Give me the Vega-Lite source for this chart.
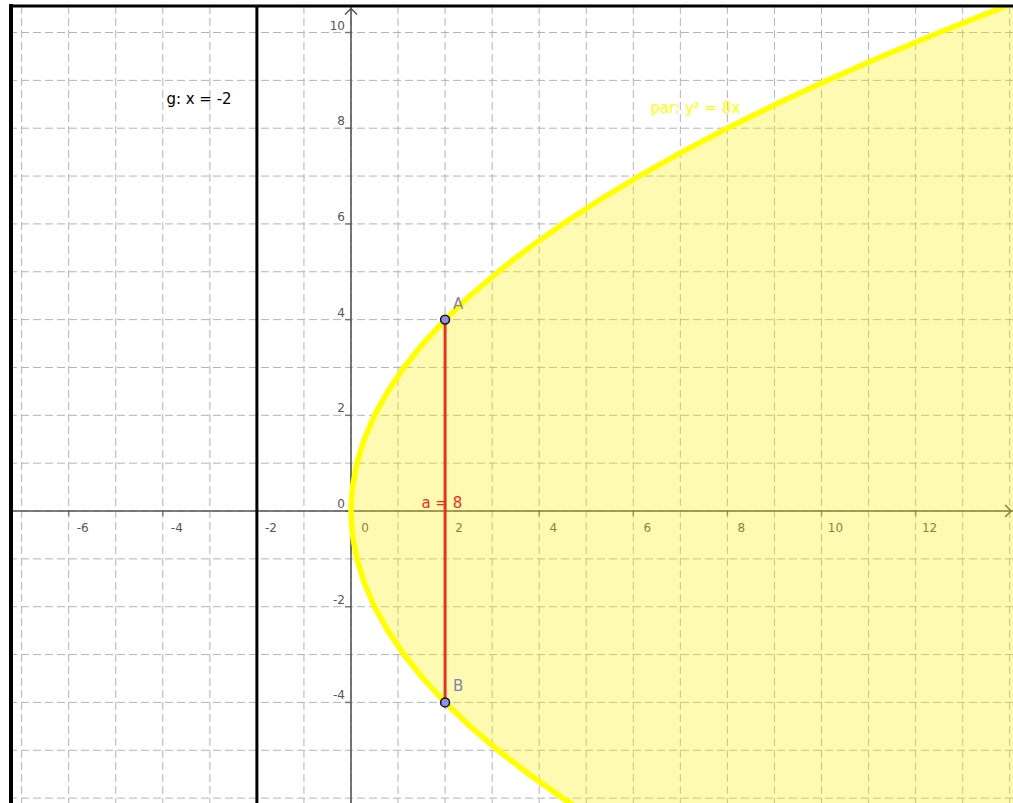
{
  "$schema": "https://vega.github.io/schema/vega-lite/v6.json",
  "width": 1002,
  "height": 797,
  "autosize": {"type": "none"},
  "padding": {"left": 11, "top": 6, "right": 0, "bottom": 0},
  "background": "white",
  "view": {"stroke": null},
  "config": {"text": {"font": "DejaVu Sans"}},
  "data": {"values": [{}]},
  "datasets": {
    "par": [
      {"py": -6.5, "px": 5.28125}, {"py": -6, "px": 4.5}, {"py": -5.5, "px": 3.78125}, {"py": -5, "px": 3.125},
      {"py": -4.5, "px": 2.53125}, {"py": -4, "px": 2}, {"py": -3.5, "px": 1.53125}, {"py": -3, "px": 1.125},
      {"py": -2.5, "px": 0.78125}, {"py": -2, "px": 0.5}, {"py": -1.5, "px": 0.28125}, {"py": -1, "px": 0.125},
      {"py": -0.5, "px": 0.03125}, {"py": 0, "px": 0}, {"py": 0.5, "px": 0.03125}, {"py": 1, "px": 0.125},
      {"py": 1.5, "px": 0.28125}, {"py": 2, "px": 0.5}, {"py": 2.5, "px": 0.78125}, {"py": 3, "px": 1.125},
      {"py": 3.5, "px": 1.53125}, {"py": 4, "px": 2}, {"py": 4.5, "px": 2.53125}, {"py": 5, "px": 3.125},
      {"py": 5.5, "px": 3.78125}, {"py": 6, "px": 4.5}, {"py": 6.5, "px": 5.28125}, {"py": 7, "px": 6.125},
      {"py": 7.5, "px": 7.03125}, {"py": 8, "px": 8}, {"py": 8.5, "px": 9.03125}, {"py": 9, "px": 10.125},
      {"py": 9.5, "px": 11.28125}, {"py": 10, "px": 12.5}, {"py": 10.5, "px": 13.78125}, {"py": 11, "px": 15.125}
    ],
    "gx": [
      {"g": -7}, {"g": -6}, {"g": -5}, {"g": -4}, {"g": -3}, {"g": -2}, {"g": -1}, {"g": 0}, {"g": 1}, {"g": 2}, {"g": 3},
      {"g": 4}, {"g": 5}, {"g": 6}, {"g": 7}, {"g": 8}, {"g": 9}, {"g": 10}, {"g": 11}, {"g": 12}, {"g": 13}, {"g": 14}
    ],
    "gy": [
      {"g": -6}, {"g": -5}, {"g": -4}, {"g": -3}, {"g": -2}, {"g": -1}, {"g": 0}, {"g": 1}, {"g": 2},
      {"g": 3}, {"g": 4}, {"g": 5}, {"g": 6}, {"g": 7}, {"g": 8}, {"g": 9}, {"g": 10}
    ],
    "xt": [
      {"v": -6, "t": "-6"}, {"v": -4, "t": "-4"}, {"v": -2, "t": "-2"}, {"v": 0, "t": "0"}, {"v": 2, "t": "2"},
      {"v": 4, "t": "4"}, {"v": 6, "t": "6"}, {"v": 8, "t": "8"}, {"v": 10, "t": "10"}, {"v": 12, "t": "12"}
    ],
    "yt": [
      {"v": -4, "t": "-4"}, {"v": -2, "t": "-2"}, {"v": 0, "t": "0"}, {"v": 2, "t": "2"},
      {"v": 4, "t": "4"}, {"v": 6, "t": "6"}, {"v": 8, "t": "8"}, {"v": 10, "t": "10"}
    ],
    "pts": [{"x": 2, "y": 4, "name": "A"}, {"x": 2, "y": -4, "name": "B"}],
    "seg": [{"x": 2, "y1": -4, "y2": 4}]
  },
  "layer": [
    {
      "data": {"name": "gx"},
      "mark": {"type": "rule", "color": "#b4b4b4", "strokeWidth": 1, "strokeDash": [8, 4]},
      "encoding": {"x": {"field": "g", "type": "quantitative", "scale": {"domain": [-7.226, 14.07], "nice": false, "zero": false}, "axis": null}}
    },
    {
      "data": {"name": "gy"},
      "mark": {"type": "rule", "color": "#b4b4b4", "strokeWidth": 1, "strokeDash": [8, 4]},
      "encoding": {"y": {"field": "g", "type": "quantitative", "scale": {"domain": [-6.102, 10.554], "nice": false, "zero": false}, "axis": null}}
    },
    {
      "mark": {"type": "rule", "color": "#555555", "strokeWidth": 1.6},
      "encoding": {"y": {"datum": 0, "type": "quantitative", "scale": {"domain": [-6.102, 10.554], "nice": false, "zero": false}, "axis": null}}
    },
    {
      "mark": {"type": "rule", "color": "#555555", "strokeWidth": 1.6},
      "encoding": {"x": {"datum": 0, "type": "quantitative", "scale": {"domain": [-7.226, 14.07], "nice": false, "zero": false}, "axis": null}}
    },
    {
      "data": {"name": "xt"},
      "mark": {"type": "tick", "orient": "vertical", "size": 6, "thickness": 1.5, "yOffset": 2, "color": "#555555"},
      "encoding": {
        "x": {"field": "v", "type": "quantitative", "scale": {"domain": [-7.226, 14.07], "nice": false, "zero": false}, "axis": null},
        "y": {"datum": 0, "type": "quantitative", "scale": {"domain": [-6.102, 10.554], "nice": false, "zero": false}, "axis": null}
      }
    },
    {
      "data": {"name": "yt"},
      "mark": {"type": "tick", "orient": "horizontal", "size": 6, "thickness": 1.5, "xOffset": -3, "color": "#555555"},
      "encoding": {
        "y": {"field": "v", "type": "quantitative", "scale": {"domain": [-6.102, 10.554], "nice": false, "zero": false}, "axis": null},
        "x": {"datum": 0, "type": "quantitative", "scale": {"domain": [-7.226, 14.07], "nice": false, "zero": false}, "axis": null}
      }
    },
    {
      "data": {"name": "xt"},
      "mark": {"type": "text", "align": "center", "baseline": "middle", "dx": 14, "dy": 17, "fontSize": 12, "color": "#555555"},
      "encoding": {
        "x": {"field": "v", "type": "quantitative", "scale": {"domain": [-7.226, 14.07], "nice": false, "zero": false}, "axis": null},
        "y": {"datum": 0, "type": "quantitative", "scale": {"domain": [-6.102, 10.554], "nice": false, "zero": false}, "axis": null},
        "text": {"field": "t"}
      }
    },
    {
      "data": {"name": "yt"},
      "mark": {"type": "text", "align": "right", "baseline": "middle", "dx": -6, "dy": -7, "fontSize": 12, "color": "#555555"},
      "encoding": {
        "y": {"field": "v", "type": "quantitative", "scale": {"domain": [-6.102, 10.554], "nice": false, "zero": false}, "axis": null},
        "x": {"datum": 0, "type": "quantitative", "scale": {"domain": [-7.226, 14.07], "nice": false, "zero": false}, "axis": null},
        "text": {"field": "t"}
      }
    },
    {
      "mark": {"type": "point", "shape": "M-1,1L0,0L1,1", "size": 144, "filled": false, "color": "#555555", "strokeWidth": 1.5, "opacity": 1},
      "encoding": {
        "x": {"datum": 0, "type": "quantitative", "scale": {"domain": [-7.226, 14.07], "nice": false, "zero": false}, "axis": null},
        "y": {"datum": 10.5, "type": "quantitative", "scale": {"domain": [-6.102, 10.554], "nice": false, "zero": false}, "axis": null}
      }
    },
    {
      "mark": {"type": "point", "shape": "M-1,-1L0,0L-1,1", "size": 144, "filled": false, "color": "#555555", "strokeWidth": 1.5, "opacity": 1},
      "encoding": {
        "x": {"datum": 14.03, "type": "quantitative", "scale": {"domain": [-7.226, 14.07], "nice": false, "zero": false}, "axis": null},
        "y": {"datum": 0, "type": "quantitative", "scale": {"domain": [-6.102, 10.554], "nice": false, "zero": false}, "axis": null}
      }
    },
    {
      "data": {"name": "par"},
      "mark": {"type": "area", "orient": "horizontal", "color": "#ffee00", "opacity": 0.3, "clip": true},
      "encoding": {
        "y": {"field": "py", "type": "quantitative", "scale": {"domain": [-6.102, 10.554], "nice": false, "zero": false}, "axis": null},
        "x": {"field": "px", "type": "quantitative", "scale": {"domain": [-7.226, 14.07], "nice": false, "zero": false}, "axis": null},
        "x2": {"datum": 15}
      }
    },
    {
      "data": {"name": "par"},
      "mark": {"type": "line", "color": "#ffff00", "strokeWidth": 5.5, "clip": true},
      "encoding": {
        "y": {"field": "py", "type": "quantitative", "scale": {"domain": [-6.102, 10.554], "nice": false, "zero": false}, "axis": null},
        "x": {"field": "px", "type": "quantitative", "scale": {"domain": [-7.226, 14.07], "nice": false, "zero": false}, "axis": null},
        "order": {"field": "py", "type": "quantitative"}
      }
    },
    {
      "mark": {"type": "rule", "color": "#000000", "strokeWidth": 3},
      "encoding": {"x": {"datum": -2, "type": "quantitative", "scale": {"domain": [-7.226, 14.07], "nice": false, "zero": false}, "axis": null}}
    },
    {
      "mark": {"type": "rule", "color": "#000000", "strokeWidth": 4, "strokeCap": "square"},
      "encoding": {"x": {"datum": -7.226, "type": "quantitative", "scale": {"domain": [-7.226, 14.07], "nice": false, "zero": false}, "axis": null}}
    },
    {
      "mark": {"type": "rule", "color": "#000000", "strokeWidth": 3, "strokeCap": "square"},
      "encoding": {"y": {"datum": 10.554, "type": "quantitative", "scale": {"domain": [-6.102, 10.554], "nice": false, "zero": false}, "axis": null}}
    },
    {
      "data": {"name": "seg"},
      "mark": {"type": "rule", "color": "#e3341c", "strokeWidth": 3},
      "encoding": {
        "x": {"field": "x", "type": "quantitative", "scale": {"domain": [-7.226, 14.07], "nice": false, "zero": false}, "axis": null},
        "y": {"field": "y1", "type": "quantitative", "scale": {"domain": [-6.102, 10.554], "nice": false, "zero": false}, "axis": null},
        "y2": {"field": "y2"}
      }
    },
    {
      "data": {"name": "pts"},
      "mark": {"type": "circle", "size": 80, "fill": "#9090e8", "stroke": "#111111", "strokeWidth": 1.5, "opacity": 1},
      "encoding": {
        "x": {"field": "x", "type": "quantitative", "scale": {"domain": [-7.226, 14.07], "nice": false, "zero": false}, "axis": null},
        "y": {"field": "y", "type": "quantitative", "scale": {"domain": [-6.102, 10.554], "nice": false, "zero": false}, "axis": null}
      }
    },
    {
      "data": {"name": "pts"},
      "mark": {"type": "text", "align": "center", "baseline": "middle", "dx": 13, "dy": -16, "fontSize": 15, "color": "#8383a8"},
      "encoding": {
        "x": {"field": "x", "type": "quantitative", "scale": {"domain": [-7.226, 14.07], "nice": false, "zero": false}, "axis": null},
        "y": {"field": "y", "type": "quantitative", "scale": {"domain": [-6.102, 10.554], "nice": false, "zero": false}, "axis": null},
        "text": {"field": "name"}
      }
    },
    {
      "mark": {"type": "text", "text": "a = 8", "align": "center", "baseline": "middle", "fontSize": 15, "color": "#e3341c"},
      "encoding": {
        "x": {"datum": 1.93, "type": "quantitative", "scale": {"domain": [-7.226, 14.07], "nice": false, "zero": false}, "axis": null},
        "y": {"datum": 0.17, "type": "quantitative", "scale": {"domain": [-6.102, 10.554], "nice": false, "zero": false}, "axis": null}
      }
    },
    {
      "mark": {"type": "text", "text": "g: x = -2", "align": "center", "baseline": "middle", "fontSize": 15, "color": "#000000"},
      "encoding": {
        "x": {"datum": -3.23, "type": "quantitative", "scale": {"domain": [-7.226, 14.07], "nice": false, "zero": false}, "axis": null},
        "y": {"datum": 8.62, "type": "quantitative", "scale": {"domain": [-6.102, 10.554], "nice": false, "zero": false}, "axis": null}
      }
    },
    {
      "mark": {"type": "text", "text": "par: y² = 8x", "align": "center", "baseline": "middle", "fontSize": 15, "color": "#ffff00"},
      "encoding": {
        "x": {"datum": 7.32, "type": "quantitative", "scale": {"domain": [-7.226, 14.07], "nice": false, "zero": false}, "axis": null},
        "y": {"datum": 8.43, "type": "quantitative", "scale": {"domain": [-6.102, 10.554], "nice": false, "zero": false}, "axis": null}
      }
    }
  ]
}
